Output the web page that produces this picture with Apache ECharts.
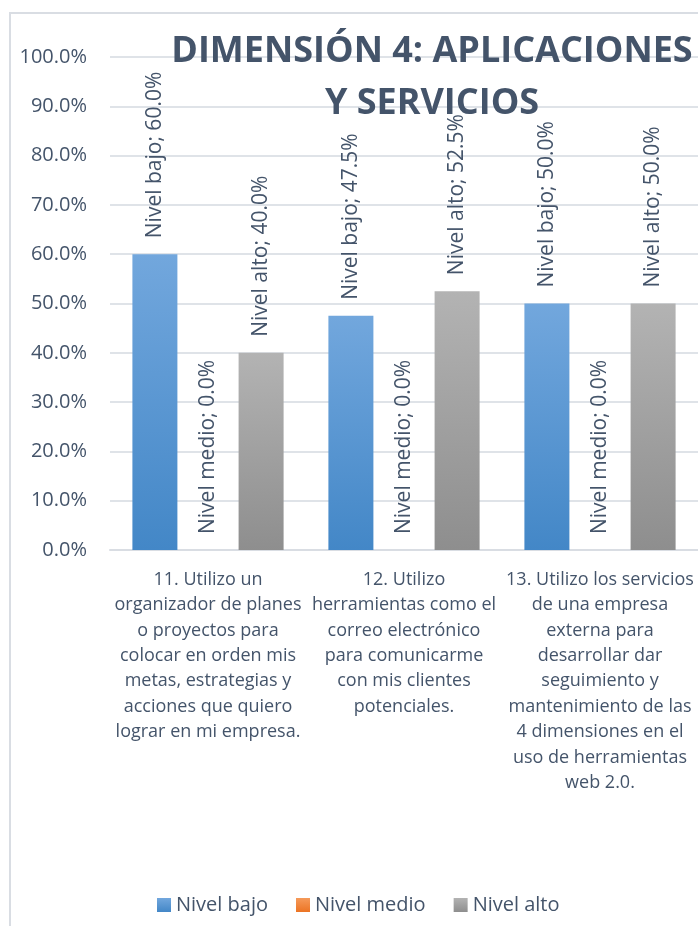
<!DOCTYPE html>
<html>
<head>
<meta charset="utf-8">
<script src="https://cdn.jsdelivr.net/npm/echarts@6/dist/echarts.min.js"></script>
<style>
  html, body { margin: 0; padding: 0; background: #fff; }
  #mainChart { width: 698px; height: 926px; }
</style>
</head>
<body>
<div id="mainChart"></div>
<script>
// categorias (eje x)
const categories = [
  "11. Utilizo un\norganizador de planes\no proyectos para\ncolocar en orden mis\nmetas, estrategias y\nacciones que quiero\nlograr en mi empresa.",
  "12. Utilizo\nherramientas como el\ncorreo electrónico\npara comunicarme\ncon mis clientes\npotenciales.",
  "13. Utilizo los servicios\nde una empresa\nexterna para\ndesarrollar dar\nseguimiento y\nmantenimiento de las\n4 dimensiones en el\nuso de herramientas\nweb 2.0."
];
const seriesNames = ["Nivel bajo", "Nivel medio", "Nivel alto"];
const nivelBajo = [60.0, 47.5, 50.0];
const nivelMedio = [0.0, 0.0, 0.0];
const nivelAlto = [40.0, 52.5, 50.0];
const yTicks = [0, 10, 20, 30, 40, 50, 60, 70, 80, 90, 100];

const textColor = "#44546a";
const grad = (top, bottom) => new echarts.graphic.LinearGradient(0, 0, 0, 1, [
  { offset: 0, color: top },
  { offset: 1, color: bottom }
]);

const chart = echarts.init(document.getElementById("mainChart"));

function makeSeries(name, data, color) {
  return {
    name: name,
    type: "bar",
    data: data,
    barWidth: 45,
    barGap: "18%",
    itemStyle: { color: color },
    label: {
      show: true,
      position: "top",
      rotate: 90,
      align: "left",
      verticalAlign: "middle",
      distance: 16,
      fontFamily: "Open Sans",
      fontSize: 21,
      color: textColor,
      formatter: p => p.seriesName + "; " + p.value.toFixed(1) + "%"
    },
    animation: false
  };
}

var option = {
  backgroundColor: "#fff",
  title: {
    text: "DIMENSIÓN 4: APLICACIONES\nY SERVICIOS",
    left: 432,
    top: 26,
    padding: 0,
    textAlign: "center",
    textStyle: {
      fontFamily: "Open Sans",
      fontWeight: "bold",
      fontSize: 36,
      lineHeight: 52,
      color: textColor
    },
    z: 10
  },
  legend: {
    data: seriesNames,
    left: 152,
    top: 890,
    itemWidth: 14,
    itemHeight: 14,
    itemGap: 28,
    icon: "rect",
    textStyle: {
      fontFamily: "Open Sans",
      fontSize: 20,
      color: textColor,
      padding: [0, 0, 0, 0]
    }
  },
  grid: {
    left: 110,
    top: 57,
    width: 591,
    height: 493,
    containLabel: false
  },
  xAxis: {
    type: "category",
    data: categories,
    axisTick: { show: false },
    axisLine: { lineStyle: { color: "#d9dde3", width: 2 } },
    axisLabel: {
      interval: 0,
      margin: 17,
      fontFamily: "Open Sans",
      fontSize: 18,
      lineHeight: 25.4,
      color: textColor,
      align: "center"
    }
  },
  yAxis: {
    type: "value",
    min: yTicks[0],
    max: yTicks[yTicks.length - 1],
    interval: 10,
    axisLine: { show: false },
    axisTick: { show: false },
    splitLine: { lineStyle: { color: "#dfe3e8", width: 2 } },
    axisLabel: {
      margin: 23,
      fontFamily: "Open Sans",
      fontSize: 20,
      color: textColor,
      formatter: v => v.toFixed(1) + "%"
    }
  },
  graphic: [
    {
      type: "polyline",
      shape: { points: [[10, 926], [10, 13], [698, 13]] },
      style: { stroke: "#d9dde3", lineWidth: 2, fill: null },
      silent: true
    }
  ],
  series: [
    makeSeries(seriesNames[0], nivelBajo, grad("#72a7dd", "#4387c7")),
    makeSeries(seriesNames[1], nivelMedio, grad("#f59a5a", "#ec7424")),
    makeSeries(seriesNames[2], nivelAlto, grad("#b3b3b3", "#8e8e8e"))
  ]
};

chart.setOption(option);
</script>
</body>
</html>
